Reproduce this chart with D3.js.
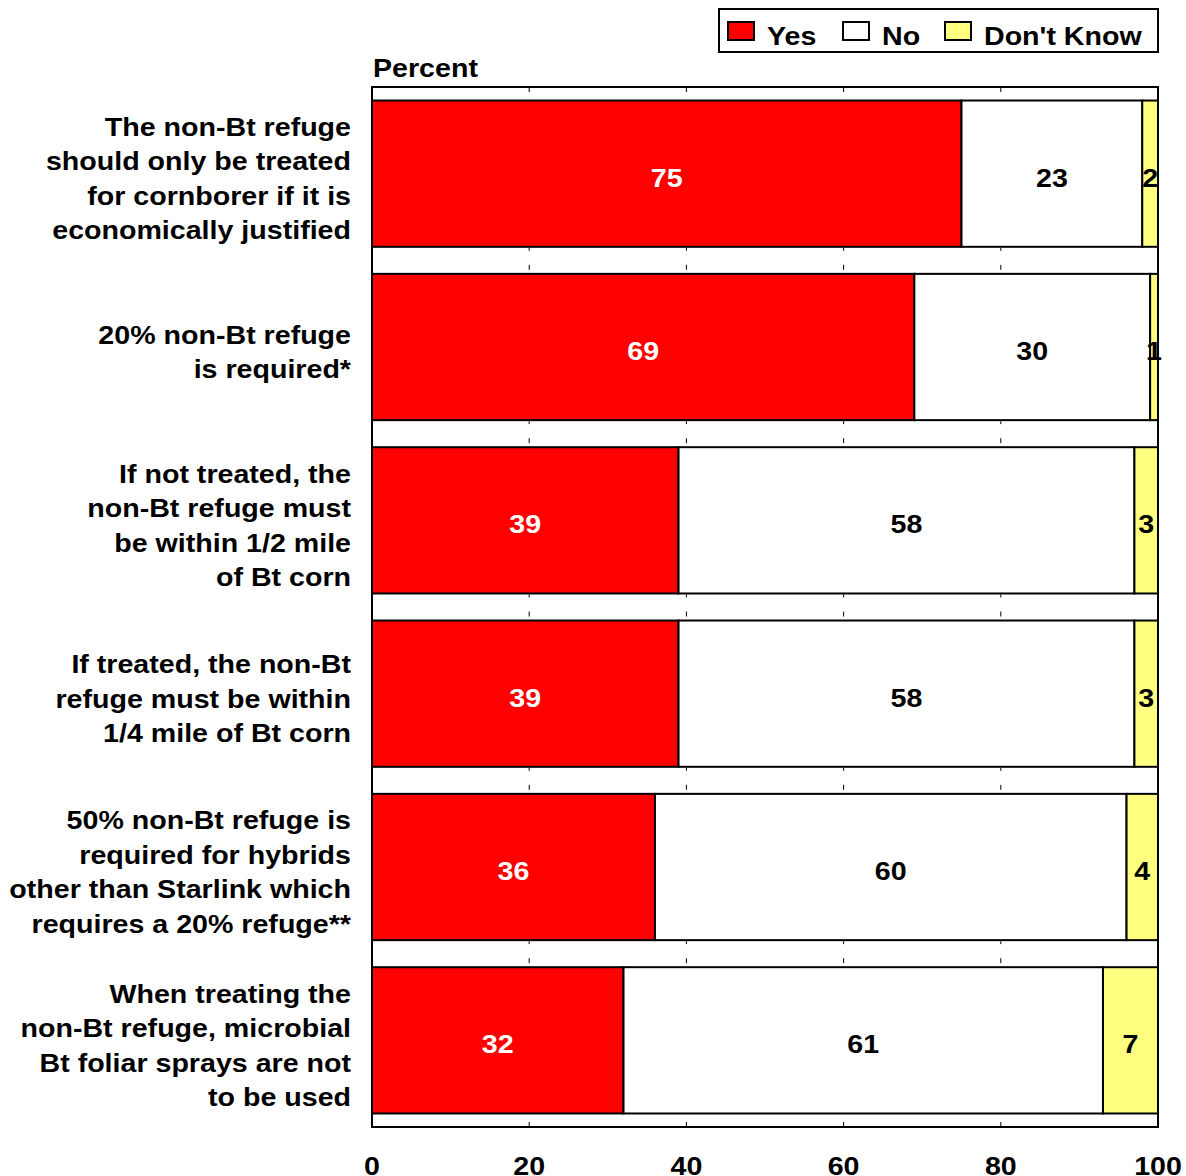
<!DOCTYPE html>
<html>
<head>
<meta charset="utf-8">
<script src="https://cdn.jsdelivr.net/npm/d3@7"></script>
<style>
  html, body { margin: 0; padding: 0; background: #fff; }
  svg text { font-family: "Liberation Sans", Arial, sans-serif; font-weight: bold; fill: #000; }
</style>
</head>
<body>
<svg id="chart" width="1186" height="1176"></svg>
<script>
// Survey statements (each label split into its display lines)
const categories = [
  ["The non-Bt refuge", "should only be treated", "for cornborer if it is", "economically justified"],
  ["20% non-Bt refuge", "is required*"],
  ["If not treated, the", "non-Bt refuge must", "be within 1/2 mile", "of Bt corn"],
  ["If treated, the non-Bt", "refuge must be within", "1/4 mile of Bt corn"],
  ["50% non-Bt refuge is", "required for hybrids", "other than Starlink which", "requires a 20% refuge**"],
  ["When treating the", "non-Bt refuge, microbial", "Bt foliar sprays are not", "to be used"]
];
const yesValues      = [75, 69, 39, 39, 36, 32];
const noValues       = [23, 30, 58, 58, 60, 61];
const dontKnowValues = [2, 1, 3, 3, 4, 7];
const seriesNames = ["Yes", "No", "Don't Know"];
const seriesColors = ["#ff0000", "#ffffff", "#ffff80"];
const labelColors = ["#ffffff", "#000000", "#000000"];
const xTicks = [0, 20, 40, 60, 80, 100];

const svg = d3.select("#chart");
const plotLeft = 372, plotRight = 1158, plotTop = 87, plotBottom = 1127;
const FONT = 26, WIDEN = 1.1;   // bold type, slightly widened

// text drawn in a group that is widened horizontally about its anchor point
function wideText(parent, x, y, anchor) {
  return parent.append("g")
    .attr("transform", `translate(${x},${y}) scale(${WIDEN},1)`)
    .append("text")
    .attr("text-anchor", anchor)
    .attr("font-size", FONT);
}

const x = d3.scaleLinear().domain([0, 100]).range([plotLeft, plotRight]);
const keys = categories.map((c, i) => i);
const y = d3.scaleBand().domain(keys).range([plotTop, plotBottom])
  .paddingInner(0.156).paddingOuter(0.078);

const rows = keys.map(i => ({ i, values: [yesValues[i], noValues[i], dontKnowValues[i]] }));
const stack = d3.stack().keys([0, 1, 2]).value((d, k) => d.values[k]);
const series = stack(rows);

// plot frame
svg.append("rect")
  .attr("x", plotLeft).attr("y", plotTop)
  .attr("width", plotRight - plotLeft).attr("height", plotBottom - plotTop)
  .attr("fill", "#fff").attr("stroke", "#000").attr("stroke-width", 2);

// small inward ticks along the top, bottom and in the gaps between bars
const tickInner = xTicks.filter(t => t > 0 && t < 100);
const tickRows = [];
tickRows.push([plotTop + 1, plotTop + 5]);
keys.forEach(i => {
  if (i < keys.length - 1) {
    const gTop = y(i) + y.bandwidth();
    const gBot = y(i + 1);
    tickRows.push([gTop + 1, gTop + 4]);
    tickRows.push([gBot - 9, gBot - 4]);
  }
});
tickRows.push([plotBottom - 5, plotBottom - 1]);
tickRows.forEach(([y1, y2]) => {
  svg.append("g").selectAll("line").data(tickInner).join("line")
    .attr("x1", d => x(d)).attr("x2", d => x(d))
    .attr("y1", y1).attr("y2", y2)
    .attr("stroke", "#000").attr("stroke-width", 1);
});

// stacked bars
series.forEach((s, k) => {
  svg.append("g").selectAll("rect").data(s).join("rect")
    .attr("x", d => x(d[0]))
    .attr("y", d => y(d.data.i))
    .attr("width", d => x(d[1]) - x(d[0]))
    .attr("height", y.bandwidth())
    .attr("fill", seriesColors[k])
    .attr("stroke", "#000").attr("stroke-width", 2);
});

// value labels
const valueLayer = svg.append("g");
series.forEach((s, k) => {
  s.forEach(d => {
    wideText(valueLayer, (x(d[0]) + x(d[1])) / 2, y(d.data.i) + y.bandwidth() / 2 + 13, "middle")
      .style("fill", labelColors[k])
      .text(d.data.values[k]);
  });
});

// category labels
const lineH = 34.4;
categories.forEach((lines, i) => {
  const cy = y(i) + y.bandwidth() / 2;
  const t = wideText(svg, 351, 0, "end");
  lines.forEach((ln, j) => {
    t.append("tspan")
      .attr("x", 0)
      .attr("y", cy + (j - (lines.length - 1) / 2) * lineH + 14)
      .text(ln);
  });
});

// x axis labels
xTicks.forEach(d => {
  wideText(svg, x(d), 1175, "middle").text(d);
});

// axis title
wideText(svg, 373, 77, "start").text("Percent");

// legend
const lg = svg.append("g");
lg.append("rect").attr("x", 719).attr("y", 9).attr("width", 439).attr("height", 43)
  .attr("fill", "#fff").attr("stroke", "#000").attr("stroke-width", 2);
const legendX = [728, 843, 945];
seriesNames.forEach((n, k) => {
  lg.append("rect").attr("x", legendX[k]).attr("y", 22).attr("width", 26).attr("height", 18)
    .attr("fill", seriesColors[k]).attr("stroke", "#000").attr("stroke-width", 2);
  wideText(lg, legendX[k] + 39, 45, "start").text(n);
});
</script>
</body>
</html>
